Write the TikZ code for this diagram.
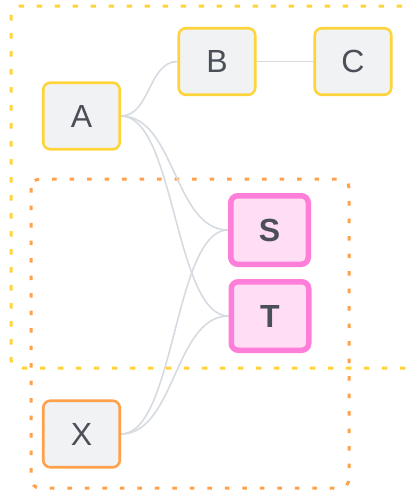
\documentclass[tikz,border=0pt]{standalone}
\usepackage{fontspec}
\setmainfont{Liberation Sans}
\usetikzlibrary{backgrounds}
\definecolor{grpY}{HTML}{FFD43B}
\definecolor{grpO}{HTML}{FFA04A}
\definecolor{pinkB}{HTML}{FF7ED9}
\definecolor{pinkF}{HTML}{FFDDF5}
\definecolor{boxF}{HTML}{F1F2F4}
\definecolor{txt}{HTML}{4B4F58}
\definecolor{conn}{HTML}{D6DBE1}
\tikzset{
  base/.style={rectangle, rounded corners=7pt, fill=boxF, text=txt,
    font=\fontsize{32}{38}\selectfont, inner sep=0pt},
  ybox/.style={base, draw=grpY, line width=2.6pt, minimum width=76.5pt, minimum height=66.5pt},
  obox/.style={base, draw=grpO, line width=2.6pt, minimum width=76.5pt, minimum height=66.5pt},
  pbox/.style={base, draw=pinkB, fill=pinkF, line width=5.5pt, minimum width=77.5pt, minimum height=68.5pt,
    font=\fontsize{32}{38}\selectfont\bfseries},
  edge/.style={draw=conn, line width=1.6pt},
  ygroup/.style={draw=grpY, line width=3pt, rounded corners=9pt, dash pattern=on 5.5pt off 12.5pt},
  ogroup/.style={draw=grpO, line width=3pt, rounded corners=9pt, dash pattern=on 4.5pt off 13pt}
}
\begin{document}
\begin{tikzpicture}[x=1pt,y=-1pt]
\useasboundingbox (0,0) rectangle (412,490);
\clip (0,0) rectangle (412,490);
\node[ybox] (A) at (81.5,116) {A};
\node[ybox] (B) at (217,61.5) {B};
\node[ybox] (C) at (353,61.5) {C};
\node[pbox] (S) at (269.5,230) {S};
\node[pbox] (T) at (270,316) {T};
\node[obox] (X) at (81.5,434) {X};
\begin{scope}[on background layer]
  \draw[ygroup] (11,6) rectangle (440,368);
  \draw[ogroup] (31,179) rectangle (349,488);
  \draw[edge] (A.east) .. controls +(29,0) and +(-29,0) .. (B.west);
  \draw[edge] (B) -- (C);
  \draw[edge] (A.east) .. controls +(54,0) and +(-54,0) .. (S.west);
  \draw[edge] (A.east) .. controls +(54,0) and +(-54,0) .. (T.west);
  \draw[edge] (X.east) .. controls +(54,0) and +(-54,0) .. (S.west);
  \draw[edge] (X.east) .. controls +(54,0) and +(-54,0) .. (T.west);
\end{scope}
\end{tikzpicture}
\end{document}
